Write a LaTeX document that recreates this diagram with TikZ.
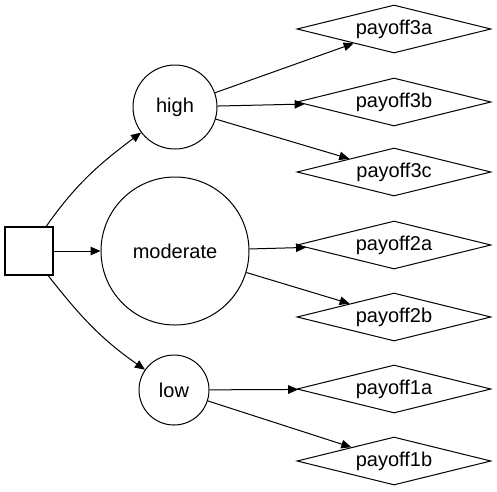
\documentclass[tikz,border=0pt]{standalone}
\usepackage{fontspec}
\setmainfont{Liberation Sans}
\usetikzlibrary{shapes.geometric,arrows.meta}
\begin{document}
\begin{tikzpicture}[x=1pt,y=1pt,
    every node/.style={font=\fontsize{20}{24}\selectfont,inner sep=0pt},
    choice/.style={draw,line width=1.2pt,minimum size=48pt},
    chance/.style={draw,circle,line width=1pt},
    payoff/.style={draw,diamond,aspect=4.04,line width=1pt,minimum width=194pt,minimum height=48pt},
    arr/.style={line width=1pt,-{Triangle[length=10pt,width=8.5pt]}}]
    \useasboundingbox (0,0) rectangle (497,-491);%固定画布大小
    \node[choice] (dec) at (29,-251) {};%决策节点
    \node[chance,minimum size=84pt] (high) at (175,-107) {high};
    \node[chance,minimum size=148pt] (moderate) at (175,-251) {moderate};
    \node[chance,minimum size=70pt] (low) at (174,-390) {low};
    \node[payoff] (p3a) at (394,-29) {payoff3a};%收益节点
    \node[payoff] (p3b) at (394,-102) {payoff3b};
    \node[payoff] (p3c) at (394,-172) {payoff3c};
    \node[payoff] (p2a) at (394,-245) {payoff2a};
    \node[payoff] (p2b) at (394,-317) {payoff2b};
    \node[payoff] (p1a) at (394,-389) {payoff1a};
    \node[payoff] (p1b) at (394,-461) {payoff1b};
    \draw[arr] (dec) to[out=55,in=217] (high);%弯曲的连线
    \draw[arr] (dec) -- (moderate);
    \draw[arr] (dec) to[out=-52,in=145] (low);
    \draw[arr] (high) -- (p3a);
    \draw[arr] (high) -- (p3b);
    \draw[arr] (high) -- (p3c);
    \draw[arr] (moderate) -- (p2a);
    \draw[arr] (moderate) -- (p2b);
    \draw[arr] (low) -- (p1a);
    \draw[arr] (low) -- (p1b);
\end{tikzpicture}
\end{document}
